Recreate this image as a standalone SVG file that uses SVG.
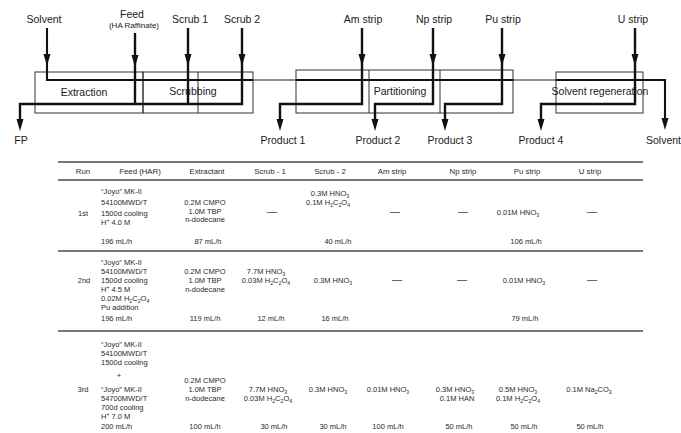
<svg xmlns="http://www.w3.org/2000/svg" xmlns:xlink="http://www.w3.org/1999/xlink" width="681" height="433" viewBox="0 0 681 433">
<style>
text{font-family:"Liberation Sans",Arial,sans-serif;fill:#1a1a1a}
.lbl{font-size:10.5px}
.sm{font-size:8px}
.t{font-size:7.5px;fill:#2a2a2a}
.th{font-size:7.8px;fill:#2a2a2a}
.c{text-anchor:middle}
.d{font-size:10px;fill:#444}
.box{fill:none;stroke:#333;stroke-width:1}
.flow{fill:none;stroke:#111;stroke-width:2.4}
.org{fill:none;stroke:#111;stroke-width:2.1}
.orgthin{fill:none;stroke:#222;stroke-width:1.2}
.rule{stroke:#777;stroke-width:1.8}
.s{font-size:5.2px}
</style>
<defs>
<path id="ah" d="M0,0 L-3.5,-12 L3.5,-12 Z" fill="#111"/>
</defs>
<rect width="681" height="433" fill="#fff"/>

<!-- process boxes -->
<g id="extraction">
<rect class="box" x="35" y="72" width="108" height="41"/>
<text class="lbl c" x="84" y="96">Extraction</text>
</g>
<g id="scrubbing">
<rect class="box" x="143" y="72" width="110" height="41"/>
<line class="box" x1="198" y1="72" x2="198" y2="113"/>
<text class="lbl c" x="193" y="95">Scrubbing</text>
</g>
<g id="partitioning">
<rect class="box" x="296" y="70" width="217" height="43"/>
<line class="box" x1="369" y1="70" x2="369" y2="113"/>
<line class="box" x1="440" y1="70" x2="440" y2="113"/>
<text class="lbl c" x="400" y="95">Partitioning</text>
</g>
<g id="solvent-regeneration">
<rect class="box" x="556" y="72" width="87" height="41"/>
<text class="lbl c" x="600" y="95">Solvent regeneration</text>
</g>

<!-- stream labels -->
<g id="in-solvent"><text class="lbl c" x="44" y="23">Solvent</text></g>
<g id="in-feed"><text class="lbl c" x="132" y="18">Feed</text><text class="sm c" x="134" y="28">(HA Raffinate)</text></g>
<g id="in-scrub1"><text class="lbl c" x="190" y="23">Scrub 1</text></g>
<g id="in-scrub2"><text class="lbl c" x="242" y="23">Scrub 2</text></g>
<g id="in-am"><text class="lbl c" x="363" y="23">Am strip</text></g>
<g id="in-np"><text class="lbl c" x="434" y="23">Np strip</text></g>
<g id="in-pu"><text class="lbl c" x="503" y="23">Pu strip</text></g>
<g id="in-u"><text class="lbl c" x="633" y="23">U strip</text></g>
<g id="out-fp"><text class="lbl c" x="21" y="144">FP</text></g>
<g id="out-p1"><text class="lbl c" x="283" y="144">Product 1</text></g>
<g id="out-p2"><text class="lbl c" x="378" y="144">Product 2</text></g>
<g id="out-p3"><text class="lbl c" x="450" y="144">Product 3</text></g>
<g id="out-p4"><text class="lbl c" x="541" y="144">Product 4</text></g>
<g id="out-solvent"><text class="lbl" x="646" y="144">Solvent</text></g>

<!-- connectors -->
<g id="connectors">
<path class="org" d="M47,28 V80 H253"/>
<path class="orgthin" d="M253,80 H296"/>
<path class="org" d="M296,80 H513"/>
<path class="orgthin" d="M513,80 H556"/>
<path class="org" d="M556,80 H665 V124"/>
<path class="flow" d="M135,33 V104"/>
<path class="flow" d="M188,28 V104"/>
<path class="flow" d="M242,28 V104 H20 V124"/>
<path class="flow" d="M362,28 V104 H280 V124"/>
<path class="flow" d="M433,28 V104 H375 V124"/>
<path class="flow" d="M502,28 V104 H445 V124"/>
<path class="flow" d="M635,28 V104 H541 V124"/>
<use xlink:href="#ah" x="47" y="66"/>
<use xlink:href="#ah" x="135" y="67"/>
<use xlink:href="#ah" x="188" y="66"/>
<use xlink:href="#ah" x="242" y="66"/>
<use xlink:href="#ah" x="362" y="66"/>
<use xlink:href="#ah" x="433" y="66"/>
<use xlink:href="#ah" x="502" y="66"/>
<use xlink:href="#ah" x="635" y="66"/>
<use xlink:href="#ah" x="20" y="131"/>
<use xlink:href="#ah" x="280" y="131"/>
<use xlink:href="#ah" x="375" y="131"/>
<use xlink:href="#ah" x="445" y="131"/>
<use xlink:href="#ah" x="541" y="131"/>
<use xlink:href="#ah" x="665" y="130"/>
</g>

<!-- table -->
<g id="table">
<line class="rule" x1="58" y1="162" x2="643" y2="162"/>
<line class="rule" x1="58" y1="180" x2="643" y2="180"/>
<line class="rule" x1="58" y1="251" x2="643" y2="251"/>
<line class="rule" x1="58" y1="331" x2="643" y2="331"/>

<g id="header">
<text class="th c" x="83" y="174">Run</text>
<text class="th c" x="140" y="174">Feed (HAR)</text>
<text class="th c" x="207" y="174">Extractant</text>
<text class="th c" x="270" y="174">Scrub - 1</text>
<text class="th c" x="330" y="174">Scrub - 2</text>
<text class="th c" x="392" y="174">Am strip</text>
<text class="th c" x="463" y="174">Np strip</text>
<text class="th c" x="527" y="174">Pu strip</text>
<text class="th c" x="590" y="174">U strip</text>
</g>

<g id="run1">
<text class="t c" x="83" y="216">1st</text>
<text class="t" x="101" y="194">“Joyo” MK-II</text>
<text class="t" x="101" y="205">54100MWD/T</text>
<text class="t" x="101" y="216">1500d cooling</text>
<text class="t" x="101" y="224.5">H<tspan class="s" dy="-3">+</tspan><tspan dy="3">   4.0 M</tspan></text>
<text class="t" x="101" y="243.5">196 mL/h</text>
<text class="t c" x="205" y="205">0.2M CMPO</text>
<text class="t c" x="205" y="213.5">1.0M TBP</text>
<text class="t c" x="205" y="222">n-dodecane</text>
<text class="t c" x="208" y="243.5">87 mL/h</text>
<text class="d c" x="272" y="215">—</text>
<text class="t c" x="330" y="196">0.3M HNO<tspan class="s" dy="2">3</tspan></text>
<text class="t c" x="328" y="205">0.1M H<tspan class="s" dy="2">2</tspan><tspan dy="-2">C</tspan><tspan class="s" dy="2">2</tspan><tspan dy="-2">O</tspan><tspan class="s" dy="2">4</tspan></text>
<text class="t c" x="338" y="243.5">40 mL/h</text>
<text class="d c" x="395" y="215">—</text>
<text class="d c" x="463" y="215">—</text>
<text class="t c" x="518" y="215">0.01M HNO<tspan class="s" dy="2">3</tspan></text>
<text class="t c" x="526" y="243.5">106 mL/h</text>
<text class="d c" x="592" y="215">—</text>
</g>

<g id="run2">
<text class="t c" x="84" y="283">2nd</text>
<text class="t" x="101" y="265">“Joyo” MK-II</text>
<text class="t" x="101" y="274">54100MWD/T</text>
<text class="t" x="101" y="283">1500d cooling</text>
<text class="t" x="101" y="292">H<tspan class="s" dy="-3">+</tspan><tspan dy="3">   4.5 M</tspan></text>
<text class="t" x="101" y="301">0.02M H<tspan class="s" dy="2">2</tspan><tspan dy="-2">C</tspan><tspan class="s" dy="2">2</tspan><tspan dy="-2">O</tspan><tspan class="s" dy="2">4</tspan></text>
<text class="t" x="101" y="310">Pu addition</text>
<text class="t" x="101" y="320.5">196 mL/h</text>
<text class="t c" x="205" y="274">0.2M CMPO</text>
<text class="t c" x="205" y="283">1.0M TBP</text>
<text class="t c" x="205" y="292">n-dodecane</text>
<text class="t c" x="205" y="320.5">119 mL/h</text>
<text class="t c" x="266" y="274">7.7M HNO<tspan class="s" dy="2">3</tspan></text>
<text class="t c" x="266" y="283">0.03M H<tspan class="s" dy="2">2</tspan><tspan dy="-2">C</tspan><tspan class="s" dy="2">2</tspan><tspan dy="-2">O</tspan><tspan class="s" dy="2">4</tspan></text>
<text class="t c" x="271" y="320.5">12 mL/h</text>
<text class="t c" x="333" y="283">0.3M HNO<tspan class="s" dy="2">3</tspan></text>
<text class="t c" x="335" y="320.5">16 mL/h</text>
<text class="d c" x="397" y="283">—</text>
<text class="d c" x="462" y="283">—</text>
<text class="t c" x="524" y="283">0.01M HNO<tspan class="s" dy="2">3</tspan></text>
<text class="t c" x="525" y="320.5">79 mL/h</text>
<text class="d c" x="592" y="283">—</text>
</g>

<g id="run3">
<text class="t c" x="83" y="391.5">3rd</text>
<text class="t" x="101" y="346.5">“Joyo” MK-II</text>
<text class="t" x="101" y="355.5">54100MWD/T</text>
<text class="t" x="101" y="364.5">1500d cooling</text>
<text class="t c" x="119" y="378">+</text>
<text class="t" x="101" y="391.5">“Joyo” MK-II</text>
<text class="t" x="101" y="400.5">54700MWD/T</text>
<text class="t" x="101" y="409.5">700d cooling</text>
<text class="t" x="101" y="418.5">H<tspan class="s" dy="-3">+</tspan><tspan dy="3">   7.0 M</tspan></text>
<text class="t" x="101" y="428.5">200 mL/h</text>
<text class="t c" x="205" y="382.5">0.2M CMPO</text>
<text class="t c" x="205" y="391.5">1.0M TBP</text>
<text class="t c" x="205" y="400.5">n-dodecane</text>
<text class="t c" x="205" y="428.5">100 mL/h</text>
<text class="t c" x="268" y="391.5">7.7M HNO<tspan class="s" dy="2">3</tspan></text>
<text class="t c" x="268" y="400.5">0.03M H<tspan class="s" dy="2">2</tspan><tspan dy="-2">C</tspan><tspan class="s" dy="2">2</tspan><tspan dy="-2">O</tspan><tspan class="s" dy="2">4</tspan></text>
<text class="t c" x="274" y="428.5">30 mL/h</text>
<text class="t c" x="328" y="391.5">0.3M HNO<tspan class="s" dy="2">3</tspan></text>
<text class="t c" x="333" y="428.5">30 mL/h</text>
<text class="t c" x="388" y="391.5">0.01M HNO<tspan class="s" dy="2">3</tspan></text>
<text class="t c" x="388" y="428.5">100 mL/h</text>
<text class="t c" x="455" y="391.5">0.3M HNO<tspan class="s" dy="2">3</tspan></text>
<text class="t c" x="457" y="400.5">0.1M HAN</text>
<text class="t c" x="459" y="428.5">50 mL/h</text>
<text class="t c" x="518" y="391.5">0.5M HNO<tspan class="s" dy="2">3</tspan></text>
<text class="t c" x="518" y="400.5">0.1M H<tspan class="s" dy="2">2</tspan><tspan dy="-2">C</tspan><tspan class="s" dy="2">2</tspan><tspan dy="-2">O</tspan><tspan class="s" dy="2">4</tspan></text>
<text class="t c" x="524" y="428.5">50 mL/h</text>
<text class="t c" x="589" y="391.5">0.1M Na<tspan class="s" dy="2">2</tspan><tspan dy="-2">CO</tspan><tspan class="s" dy="2">3</tspan></text>
<text class="t c" x="590" y="428.5">50 mL/h</text>
</g>
</g>
</svg>
